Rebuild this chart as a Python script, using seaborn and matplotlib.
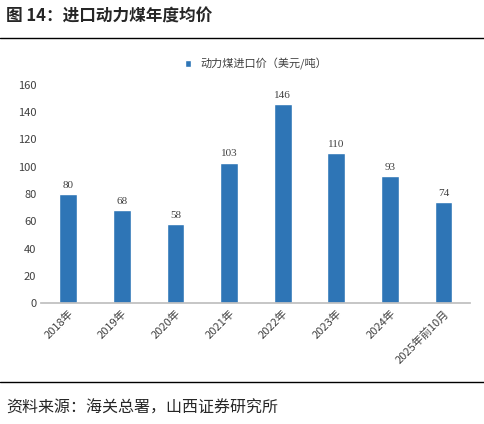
import matplotlib
matplotlib.use("Agg")
import matplotlib.pyplot as plt
import seaborn as sns
import pandas as pd

years = ["2018年", "2019年", "2020年", "2021年", "2022年", "2023年", "2024年", "2025年前10月"]
prices = [80, 68, 58, 103, 146, 110, 93, 74]
series_name = "动力煤进口价（美元/吨）"

sns.set_theme(style="white")
plt.rcParams['font.family'] = ['Noto Sans CJK SC', 'DejaVu Sans']

df = pd.DataFrame({"year": years, "price": prices, "s": series_name})

fig = plt.figure(figsize=(4.85, 4.24), dpi=100)
ax = fig.add_axes([0.085, 0.285, 0.885, 0.515])
sns.barplot(data=df, x="year", y="price", hue="s", palette=["#2E75B6"], width=0.33,
            saturation=1, ax=ax)

for i, v in enumerate(prices):
    ax.text(i, v + 3, str(v), ha="center", va="bottom", fontsize=8, color="#404040",
            family=["Liberation Serif"])

ax.set_ylim(0, 160)
ax.set_yticks(range(0, 161, 20))
ax.set_xlabel("")
ax.set_ylabel("")
ax.tick_params(axis="y", labelsize=8, colors="#404040", length=0)
ax.tick_params(axis="x", labelsize=8, colors="#404040", length=0, rotation=45)
for lab in ax.get_xticklabels():
    lab.set_ha("right")
    lab.set_rotation_mode("anchor")
for s in ["top", "right", "left"]:
    ax.spines[s].set_visible(False)
ax.spines["bottom"].set_color("#bfbfbf")

ax.legend(loc="upper center", bbox_to_anchor=(0.5, 1.17), frameon=False, fontsize=8,
          handlelength=0.6, handleheight=0.6, labelcolor="#404040")

fig.text(0.012, 0.96, "图 14：进口动力煤年度均价", fontsize=12, weight="bold", va="center")
fig.add_artist(plt.Line2D([0, 1], [0.91, 0.91], color="black", lw=1))
fig.add_artist(plt.Line2D([0, 1], [0.1, 0.1], color="black", lw=1))
fig.text(0.012, 0.037, "资料来源：海关总署，山西证券研究所", fontsize=11.5, va="center")

fig.savefig("out.png", dpi=100)
